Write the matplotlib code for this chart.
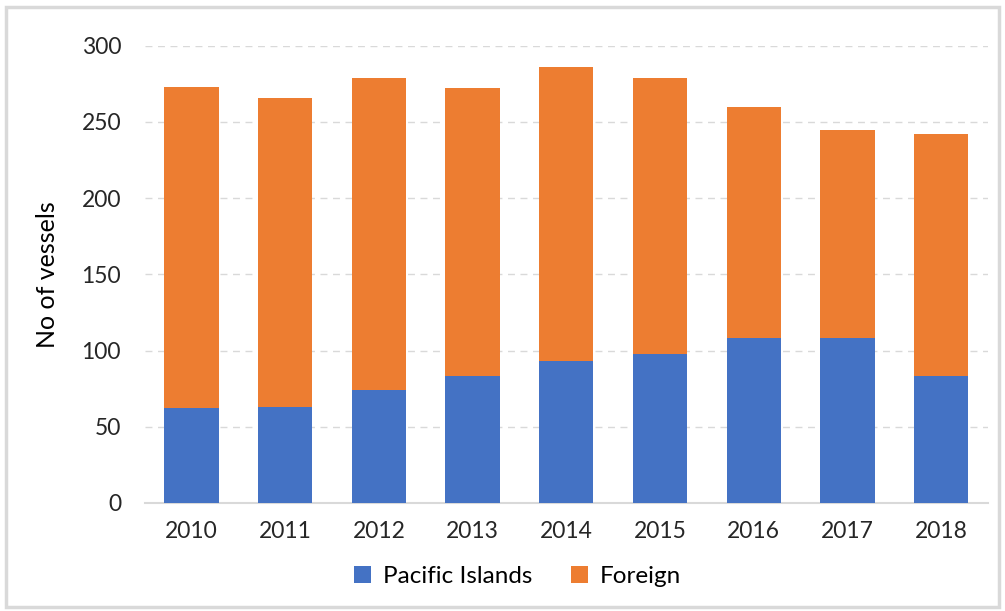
import numpy as np
import matplotlib.pyplot as plt
from matplotlib.patches import Rectangle

# -- data
years = ['2010', '2011', '2012', '2013', '2014', '2015', '2016', '2017', '2018']
pacific = [62, 63, 74, 83, 93, 98, 108, 108, 83]
total = [273, 266, 279, 272, 286, 279, 260, 245, 242]
foreign = [t - p for t, p in zip(total, pacific)]

blue = '#4472c4'
orange = '#ed7d31'
grey = '#d9d9d9'

plt.rcParams['font.family'] = ['Lato', 'DejaVu Sans']

fig = plt.figure(figsize=(10.05, 6.11), dpi=100)
ax = fig.add_axes([0.144, 0.177, 0.839, 0.748])

x = np.arange(len(years))
ax.bar(x, pacific, width=0.58, color=blue, label='Pacific Islands', zorder=3)
ax.bar(x, foreign, width=0.58, bottom=pacific, color=orange, label='Foreign', zorder=3)

ax.set_ylim(0, 300)
ax.set_xlim(-0.5, len(years) - 0.5)
ax.set_yticks(np.arange(0, 301, 50))
ax.set_xticks(x)
ax.set_xticklabels(years)
ax.tick_params(length=0, labelsize=16.5, colors='#262626', pad=13)
ax.tick_params(axis='y', pad=17)
ax.yaxis.grid(True, linestyle=(0, (5, 4)), color=grey, linewidth=1)
for s in ['top', 'right', 'left']:
    ax.spines[s].set_visible(False)
ax.spines['bottom'].set_color(grey)
ax.spines['bottom'].set_linewidth(1.5)
ax.set_ylabel('No of vessels', fontsize=18, color='#000000', labelpad=16)

fig.legend(*ax.get_legend_handles_labels(), loc='center',
           bbox_to_anchor=(0.515, 0.057), ncol=2, frameon=False,
           fontsize=17.5, handlelength=0.7, handleheight=0.7, columnspacing=1.6,
           handletextpad=0.5)

# -- light border round the figure
fig.patches.append(Rectangle((0.006, 0.006), 0.988, 0.982, transform=fig.transFigure,
                             fill=False, edgecolor=grey, linewidth=2.5))

fig.savefig('out.png', dpi=100)
